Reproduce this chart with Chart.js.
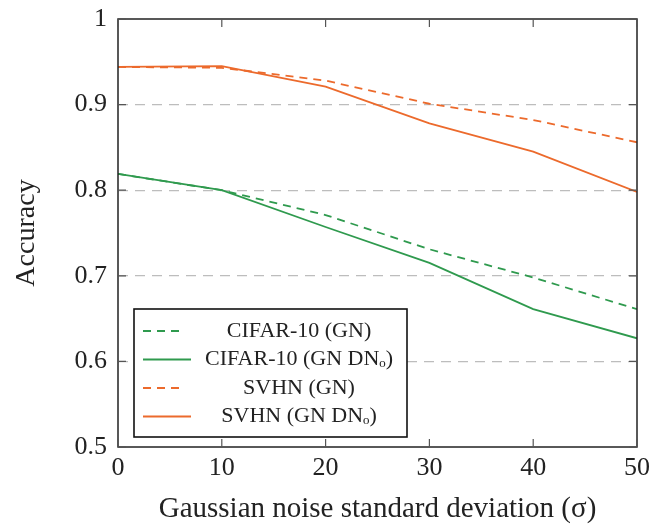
<!DOCTYPE html>
<html>
<head>
<meta charset="utf-8">
<script src="https://cdn.jsdelivr.net/npm/chart.js@4.4.0/dist/chart.umd.min.js"></script>
<style>
  html, body { margin: 0; padding: 0; background: #fff; }
  #wrap { width: 652px; height: 527px; }
</style>
</head>
<body>
<div id="wrap"><canvas id="accChart"></canvas></div>
<script>
// data
const sigma = [0, 10, 20, 30, 40, 50];
const cifarGN = [0.819, 0.800, 0.771, 0.731, 0.698, 0.661];
const cifarGNDNo = [0.819, 0.800, 0.757, 0.715, 0.661, 0.627];
const svhnGN = [0.944, 0.943, 0.928, 0.901, 0.882, 0.856];
const svhnGNDNo = [0.944, 0.945, 0.921, 0.878, 0.845, 0.798];
const xTicks = [0, 10, 20, 30, 40, 50];
const yTicks = [0.5, 0.6, 0.7, 0.8, 0.9, 1];

const GREEN = '#2f9a4e';
const ORANGE = '#ec6a2c';
const FONT = "'Liberation Serif', 'DejaVu Serif', serif";

function pts(ys) {
  return sigma.map((s, i) => ({ x: s, y: ys[i] }));
}

function series(label, ys, color, dashed) {
  return {
    label: label,
    data: pts(ys),
    borderColor: color,
    backgroundColor: color,
    borderWidth: 1.8,
    borderDash: dashed ? [8, 6] : [],
    pointRadius: 0,
    tension: 0,
    fill: false
  };
}

// frame with inward ticks (pgfplots look)
const framePlugin = {
  id: 'frame',
  afterDatasetsDraw(chart) {
    const { ctx, chartArea: a, scales } = chart;
    ctx.save();
    ctx.strokeStyle = '#222';
    ctx.lineWidth = 1.5;
    ctx.setLineDash([]);
    ctx.strokeRect(a.left, a.top, a.right - a.left, a.bottom - a.top);
    ctx.strokeStyle = '#555';
    ctx.lineWidth = 1.2;
    const len = 8;
    ctx.beginPath();
    xTicks.forEach(v => {
      const px = scales.x.getPixelForValue(v);
      ctx.moveTo(px, a.bottom); ctx.lineTo(px, a.bottom - len);
      ctx.moveTo(px, a.top); ctx.lineTo(px, a.top + len);
    });
    yTicks.forEach(v => {
      const py = scales.y.getPixelForValue(v);
      ctx.moveTo(a.left, py); ctx.lineTo(a.left + len, py);
      ctx.moveTo(a.right, py); ctx.lineTo(a.right - len, py);
    });
    ctx.stroke();
    ctx.restore();
  }
};

// legend box inside the plot
const boxLegend = {
  id: 'boxLegend',
  afterDraw(chart) {
    const { ctx } = chart;
    const bx = 134, by = 309, bw = 273, bh = 128;
    ctx.save();
    ctx.fillStyle = '#fff';
    ctx.fillRect(bx, by, bw, bh);
    ctx.strokeStyle = '#111';
    ctx.lineWidth = 1.6;
    ctx.strokeRect(bx, by, bw, bh);
    ctx.font = '22px ' + FONT;
    ctx.textAlign = 'center';
    ctx.textBaseline = 'middle';
    chart.data.datasets.forEach((ds, i) => {
      const y = by + 22 + i * 28.5;
      ctx.strokeStyle = ds.borderColor;
      ctx.lineWidth = 1.8;
      ctx.setLineDash(ds.borderDash);
      ctx.beginPath();
      ctx.moveTo(bx + 9, y);
      ctx.lineTo(bx + (ds.borderDash.length ? 50 : 57), y);
      ctx.stroke();
      ctx.setLineDash([]);
      ctx.fillStyle = '#222';
      ctx.fillText(ds.label, bx + 165, y);
    });
    ctx.restore();
  }
};

new Chart(document.getElementById('accChart'), {
  type: 'line',
  data: {
    datasets: [
      series('CIFAR-10 (GN)', cifarGN, GREEN, true),
      series('CIFAR-10 (GN DNₒ)', cifarGNDNo, GREEN, false),
      series('SVHN (GN)', svhnGN, ORANGE, true),
      series('SVHN (GN DNₒ)', svhnGNDNo, ORANGE, false)
    ]
  },
  options: {
    responsive: true,
    maintainAspectRatio: false,
    animation: false,
    layout: { padding: { top: 19, right: 15, left: 0, bottom: 0 } },
    plugins: { legend: { display: false }, tooltip: { enabled: false } },
    scales: {
      x: {
        type: 'linear',
        min: 0,
        max: 50,
        afterBuildTicks: s => { s.ticks = xTicks.map(v => ({ value: v })); },
        afterFit: s => { s.height = 80; s.paddingLeft = 0; s.paddingRight = 0; },
        grid: { display: false, drawTicks: false },
        border: { display: false },
        ticks: { color: '#222', padding: 6, font: { family: FONT, size: 26 } },
        title: {
          display: true,
          text: 'Gaussian noise standard deviation (σ)',
          color: '#222',
          font: { family: FONT, size: 29 },
          padding: { top: 12, bottom: 0 }
        }
      },
      y: {
        min: 0.5,
        max: 1,
        afterBuildTicks: s => { s.ticks = yTicks.map(v => ({ value: v })); },
        afterFit: s => { s.width = 118; s.paddingTop = 0; s.paddingBottom = 0; },
        grid: {
          drawTicks: false,
          color: c => (c.tick && (c.tick.value === 0.5 || c.tick.value === 1)) ? 'rgba(0,0,0,0)' : '#bdbdbd',
          lineWidth: 1.2
        },
        border: { display: false, dash: [10, 7] },
        ticks: {
          color: '#222',
          padding: 11,
          font: { family: FONT, size: 26 },
          callback: v => String(Number(v.toFixed(1)))
        },
        title: {
          display: true,
          text: 'Accuracy',
          color: '#222',
          font: { family: FONT, size: 28 },
          padding: { top: 10, bottom: 0 }
        }
      }
    }
  },
  plugins: [framePlugin, boxLegend]
});
</script>
</body>
</html>
